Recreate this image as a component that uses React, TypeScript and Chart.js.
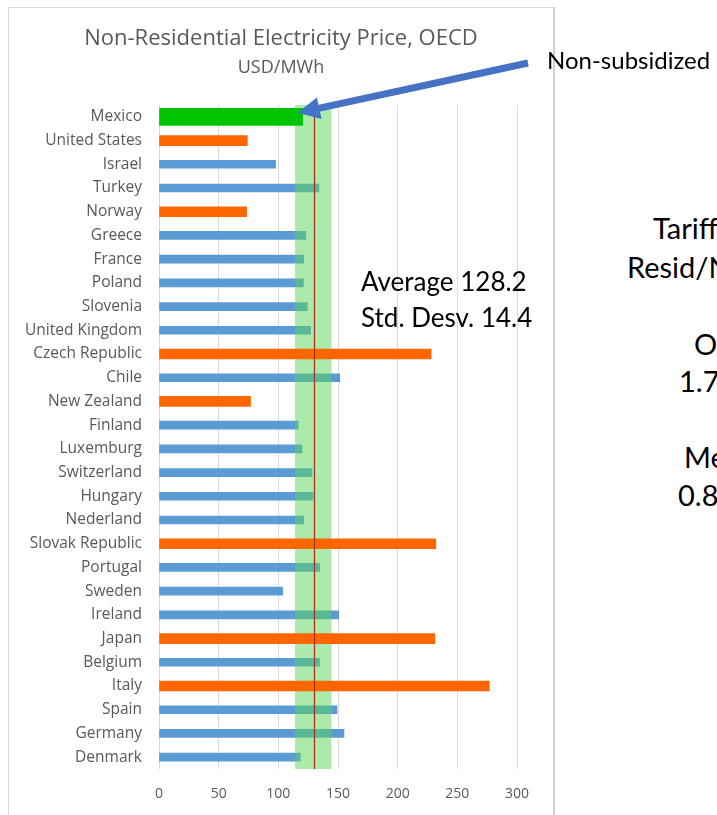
import React, { useEffect, useRef } from "react";
import { Chart, registerables } from "chart.js";

Chart.register(...registerables);

const countries = [
  "Mexico", "United States", "Israel", "Turkey", "Norway", "Greece", "France",
  "Poland", "Slovenia", "United Kingdom", "Czech Republic", "Chile", "New Zealand",
  "Finland", "Luxemburg", "Switzerland", "Hungary", "Nederland", "Slovak Republic",
  "Portugal", "Sweden", "Ireland", "Japan", "Belgium", "Italy", "Spain", "Germany", "Denmark",
];

const prices = [
  120.4, 74, 97.7, 134, 73.4, 123, 121.2,
  121, 124.3, 127.1, 228, 151.4, 76.7,
  116.7, 119.8, 128.2, 129.1, 121.2, 232,
  134.6, 103.6, 150.6, 231.2, 134.6, 276.8, 149.2, 155, 118.4,
];

// M = Mexico (highlight), O = orange, B = blue
const groups = [
  "M", "O", "B", "B", "O", "B", "B",
  "B", "B", "B", "O", "B", "O",
  "B", "B", "B", "B", "B", "O",
  "B", "B", "B", "O", "B", "O", "B", "B", "B",
];

const xTicks = [0, 50, 100, 150, 200, 250, 300];
const averageLine = 130;
const bandLow = 114;
const bandHigh = 144.5;

const titleText = "Non-Residential Electricity Price, OECD";
const subtitleText = "USD/MWh";

function pick(code: string) {
  return prices.map((v, i) => (groups[i] === code ? v : null));
}

export default function App() {
  const ref = useRef<HTMLCanvasElement | null>(null);

  useEffect(() => {
    if (!ref.current) return;

    const overlay = {
      id: "overlay",
      beforeDatasetDraw(chart: any, args: any) {
        if (args.index !== 1) return;
        const { ctx, chartArea } = chart;
        const xs = chart.scales.x;
        const x0 = xs.getPixelForValue(bandLow);
        const x1 = xs.getPixelForValue(bandHigh);
        ctx.save();
        ctx.fillStyle = "rgba(90,214,90,0.5)";
        ctx.fillRect(x0, chartArea.top, x1 - x0, chartArea.bottom - chartArea.top);
        ctx.restore();
      },
      afterDatasetsDraw(chart: any) {
        const { ctx, chartArea } = chart;
        const xs = chart.scales.x;
        const x = Math.round(xs.getPixelForValue(averageLine)) + 0.5;
        ctx.save();
        ctx.strokeStyle = "#A8321E";
        ctx.lineWidth = 1.3;
        ctx.beginPath();
        ctx.moveTo(x, chartArea.top);
        ctx.lineTo(x, chartArea.bottom);
        ctx.stroke();
        ctx.restore();
      },
      afterDraw(chart: any) {
        const { ctx } = chart;
        const xs = chart.scales.x;
        const ys = chart.scales.y;
        const tipX = xs.getPixelForValue(prices[0]) - 5;
        const tipY = ys.getPixelForValue(0) - 4;
        const sx = 520;
        const sy = 56;
        const dx = tipX - sx;
        const dy = tipY - sy;
        const len = Math.sqrt(dx * dx + dy * dy);
        const ux = dx / len;
        const uy = dy / len;
        const nx = -uy;
        const ny = ux;
        const headLen = 22;
        const halfW = 11;
        const bx = tipX - ux * headLen;
        const by = tipY - uy * headLen;
        ctx.save();
        ctx.strokeStyle = "#4472C4";
        ctx.fillStyle = "#4472C4";
        ctx.lineWidth = 7;
        ctx.beginPath();
        ctx.moveTo(sx, sy);
        ctx.lineTo(bx + ux * 2, by + uy * 2);
        ctx.stroke();
        ctx.beginPath();
        ctx.moveTo(tipX, tipY);
        ctx.lineTo(bx + nx * halfW, by + ny * halfW);
        ctx.lineTo(bx - nx * halfW, by - ny * halfW);
        ctx.closePath();
        ctx.fill();
        ctx.restore();
      },
    };

    const chart = new Chart(ref.current, {
      type: "bar",
      data: {
        labels: countries,
        datasets: [
          {
            data: pick("B"),
            backgroundColor: "#5B9BD5",
            barThickness: 8,
            grouped: false,
            order: 3,
          } as any,
          {
            data: pick("O"),
            backgroundColor: "#FF6600",
            barThickness: 10,
            grouped: false,
            order: 2,
          } as any,
          {
            data: pick("M"),
            backgroundColor: "#00C400",
            barThickness: 17,
            grouped: false,
            order: 1,
          } as any,
        ],
      },
      options: {
        indexAxis: "y",
        responsive: false,
        animation: false,
        events: [],
        layout: { padding: 0 },
        scales: {
          x: {
            type: "linear",
            min: 0,
            max: 300,
            afterBuildTicks: (s: any) => {
              s.ticks = xTicks.map((v) => ({ value: v }));
            },
            ticks: {
              color: "#595959",
              font: { family: "Open Sans", size: 14 },
              padding: 17,
            },
            grid: { color: "#D9D9D9", drawTicks: false, lineWidth: 1 },
            border: { display: false },
            afterFit: (s: any) => {
              s.height = 46;
            },
          },
          y: {
            type: "category",
            grid: { display: false, drawTicks: false },
            border: { display: false },
            ticks: {
              color: "#595959",
              font: { family: "Open Sans", size: 15.5 },
              padding: 17,
              autoSkip: false,
            },
            afterFit: (s: any) => {
              s.width = 151;
            },
          },
          y2: {
            type: "linear",
            position: "right",
            display: true,
            grid: { display: false, drawTicks: false },
            border: { display: false },
            ticks: { display: false },
            afterFit: (s: any) => {
              s.width = 37;
            },
          },
        } as any,
        plugins: {
          legend: { display: false },
          tooltip: { enabled: false },
          title: {
            display: true,
            text: titleText,
            color: "#595959",
            font: { family: "Open Sans", size: 22, weight: "normal" },
            padding: { top: 19, bottom: 0 },
          },
          subtitle: {
            display: true,
            text: subtitleText,
            color: "#595959",
            font: { family: "Open Sans", size: 18, weight: "normal" },
            padding: { top: 5, bottom: 26 },
          },
        },
      } as any,
      plugins: [overlay],
    });

    return () => chart.destroy();
  }, []);

  const txt = (left: number, top: number, size: number, text: string) => (
    <div
      style={{
        position: "absolute",
        left,
        top,
        fontFamily: "Lato",
        fontSize: size,
        lineHeight: 1,
        color: "#000",
        whiteSpace: "nowrap",
      }}
    >
      {text}
    </div>
  );

  return (
    <div
      style={{
        position: "absolute",
        left: 0,
        top: 0,
        width: 717,
        height: 815,
        overflow: "hidden",
        background: "#fff",
      }}
    >
      <div
        style={{
          position: "absolute",
          left: 8,
          top: 7,
          width: 544,
          height: 830,
          border: "1px solid #D9D9D9",
          borderRight: "2px solid #D0D0D0",
        }}
      />
      <canvas
        ref={ref}
        width={546}
        height={808}
        style={{ position: "absolute", left: 8, top: 7, width: 546, height: 808 }}
      />
      {txt(547, 48, 24, "Non-subsidized")}
      {txt(361, 268, 26, "Average 128.2")}
      {txt(361, 304, 26, "Std. Desv. 14.4")}
      {txt(653, 213, 29, "Tariff")}
      {txt(627, 252, 29, "Resid/N")}
      {txt(694, 329, 29, "O")}
      {txt(679, 366, 29, "1.7")}
      {txt(684, 442, 29, "Me")}
      {txt(678, 480, 29, "0.8")}
    </div>
  );
}
